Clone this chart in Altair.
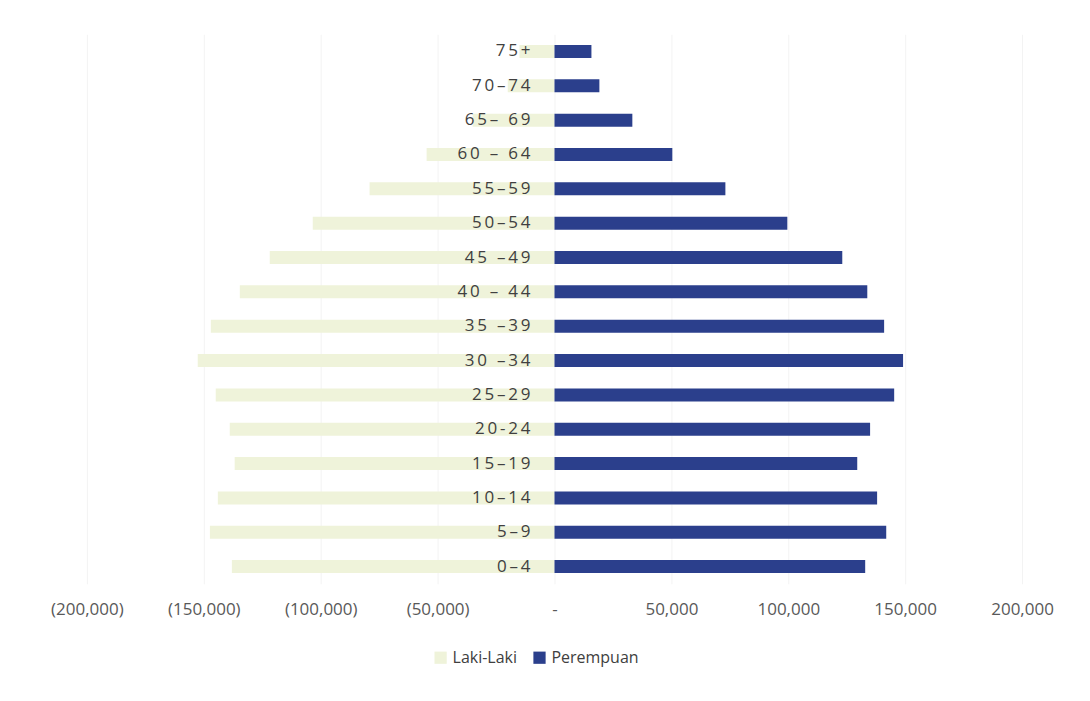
import altair as alt
import pandas as pd

ages = ["75+", "70-74", "65-69", "60-64", "55-59", "50-54", "45-49", "40-44",
        "35-39", "30-34", "25-29", "20-24", "15-19", "10-14", "5-9", "0-4"]
age_labels = ["75+", "70–74", "65– 69", "60 – 64", "55–59", "50–54", "45 –49", "40 – 44",
              "35 –39", "30 –34", "25–29", "20-24", "15–19", "10–14", "5–9", "0–4"]
laki = [15000, 20000, 35000, 54700, 79100, 103400, 121800, 134600,
        147000, 152600, 144900, 138900, 136800, 144000, 147400, 138000]
perempuan = [15800, 19200, 33300, 50400, 73100, 99600, 123100, 133800,
             141000, 149100, 145300, 135000, 129500, 138000, 141900, 132900]
series = ["Laki-Laki", "Perempuan"]
colors = ["#eff3da", "#2b3f8c"]
ticks = [-200000, -150000, -100000, -50000, 0, 50000, 100000, 150000, 200000]


def spaced(s):
    # mimic the wide letter spacing of the reference labels
    return "\u2009".join(s)


rows = []
for a, l, p in zip(ages, laki, perempuan):
    rows.append({"age": a, "sex": "Laki-Laki", "value": -l})
    rows.append({"age": a, "sex": "Perempuan", "value": p})
df = pd.DataFrame(rows)
lab = pd.DataFrame({"age": ages, "label": [spaced(s) for s in age_labels]})

x_scale = alt.Scale(domain=[-200000, 200000], nice=False)
y_enc = alt.Y("age:N", sort=ages, axis=None, scale=alt.Scale(paddingInner=0, paddingOuter=0))

bars = alt.Chart(df).mark_bar(size=13).encode(
    x=alt.X("value:Q", scale=x_scale, stack=None, title=None,
            axis=alt.Axis(values=ticks,
                          labelExpr="datum.value < 0 ? '(' + format(-datum.value, ',') + ')' : (datum.value == 0 ? '-' : format(datum.value, ','))",
                          domain=False, ticks=False, grid=True, gridColor="#f3f3f3",
                          labelFont="Open Sans", labelFontSize=17, labelColor="#595959",
                          labelPadding=18, labelFlush=False, labelOverlap=False)),
    y=y_enc,
    color=alt.Color("sex:N", scale=alt.Scale(domain=series, range=colors),
                    legend=alt.Legend(title=None, orient="none", direction="horizontal",
                                      legendX=346, legendY=616, symbolType="square",
                                      symbolSize=150, labelFont="Open Sans", labelFontSize=16,
                                      labelColor="#404040", columnPadding=14)),
)

labels = alt.Chart(lab).mark_text(align="right", baseline="middle", dx=-24,
                                  font="Open Sans", fontSize=17, color="#404040").encode(
    x=alt.datum(0, scale=x_scale),
    y=y_enc,
    text="label:N",
)

chart = alt.layer(bars, labels).properties(
    width=936, height=550,
    background="white",
    autosize=alt.AutoSizeParams(type="none"),
    padding={"left": 79, "top": 26, "right": 60, "bottom": 110},
).configure_view(stroke=None)

chart.save("out.html", embed_options={"renderer": "svg", "actions": False})
